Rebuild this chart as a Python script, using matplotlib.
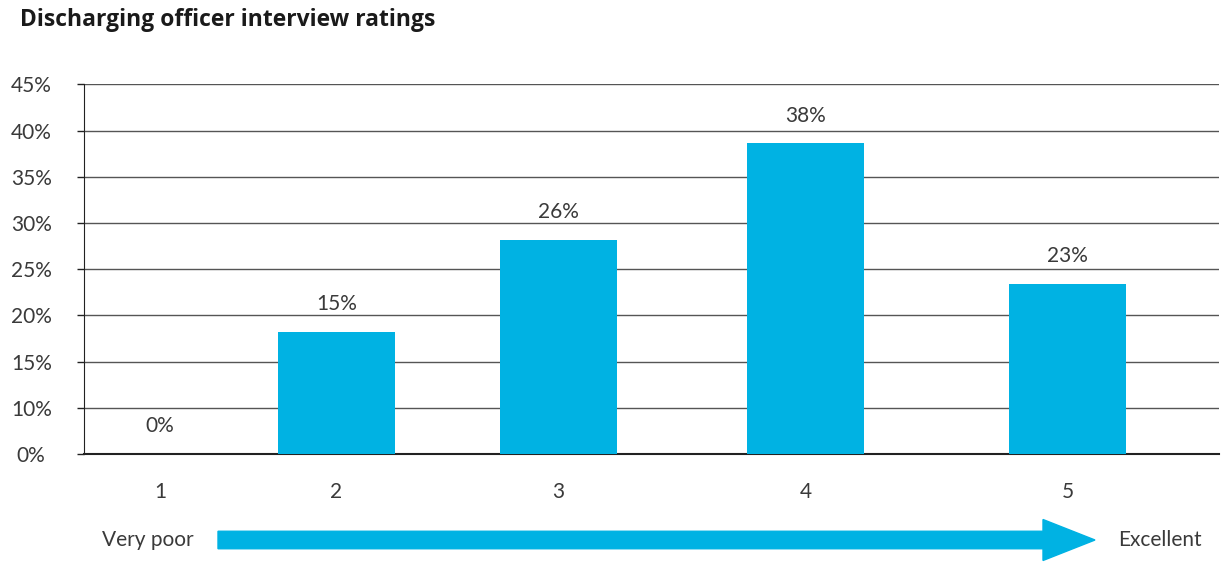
import numpy as np
import matplotlib
matplotlib.use("Agg")
from matplotlib import pyplot as plt
from matplotlib.patches import FancyArrow

# data
categories = ["1", "2", "3", "4", "5"]
bar_values = [0, 18.2, 28.2, 38.6, 23.4]      # bar heights against the labelled gridlines
bar_labels = ["0%", "15%", "26%", "38%", "23%"]  # printed labels (as in the original)
ytick_values = [0, 10, 15, 20, 25, 30, 35, 40, 45]
ytick_labels = ["0%", "10%", "15%", "20%", "25%", "30%", "35%", "40%", "45%"]

# layout only
xpos = [160, 336.5, 558.5, 805.5, 1067.5]
bar_color = "#00B2E3"
text_color = "#3a3a3a"
fs = 15

plt.rcParams["font.family"] = ["Lato", "DejaVu Sans"]

# the original axis squeezes 0-10% into one gridline step
def fwd(y):
    y = np.asarray(y, dtype=float)
    return np.where(y < 10, y * 0.5, y - 5)

def inv(y):
    y = np.asarray(y, dtype=float)
    return np.where(y < 5, y * 2, y + 5)

fig = plt.figure(figsize=(12.21, 5.63), dpi=100)
ax = fig.add_axes([84 / 1221, 1 - 454 / 563, (1219 - 84) / 1221, (454 - 84.3) / 563])
ax.set_yscale("function", functions=(fwd, inv))
ax.set_ylim(0, 45)
ax.set_xlim(84, 1219)

ax.set_yticks(ytick_values)
ax.set_yticklabels(ytick_labels)
ax.yaxis.grid(True, color="#555555", lw=1)
ax.set_axisbelow(True)

ax.bar(xpos, bar_values, width=117, color=bar_color, zorder=3)
for x, v, lab in zip(xpos, bar_values, bar_labels):
    ax.annotate(lab, (x, v), xytext=(0, 20), textcoords="offset points",
                ha="center", va="center", fontsize=fs, color=text_color)

ax.set_xticks(xpos)
ax.set_xticklabels(categories)
ax.tick_params(axis="x", length=0, pad=20, labelsize=fs, labelcolor=text_color)
ax.tick_params(axis="y", length=5, width=1, color="#222222", pad=33,
               labelsize=fs, labelcolor=text_color)
for t in ax.get_yticklabels():
    t.set_horizontalalignment("center")

for s in ["top", "right"]:
    ax.spines[s].set_visible(False)
ax.spines["left"].set_color("#222222")
ax.spines["bottom"].set_color("#222222")
ax.spines["bottom"].set_linewidth(1.5)

fig.text(20 / 1221, 1 - 20 / 563, "Discharging officer interview ratings",
         fontsize=16.5, fontweight="bold", family=["Open Sans", "DejaVu Sans"],
         color="#1a1a1a", va="center", ha="left")

# arrow under the axis, in inches so it keeps its shape
arr = FancyArrow(2.18, (563 - 540) / 100, 8.77, 0, width=0.175, head_width=0.41,
                 head_length=0.52, length_includes_head=True, color=bar_color,
                 transform=fig.dpi_scale_trans)
fig.patches.append(arr)
fig.text(148 / 1221, 1 - 540 / 563, "Very poor", fontsize=fs,
         color=text_color, ha="center", va="center")
fig.text(1160 / 1221, 1 - 540 / 563, "Excellent", fontsize=fs,
         color=text_color, ha="center", va="center")

fig.savefig("out.png", dpi=100)
